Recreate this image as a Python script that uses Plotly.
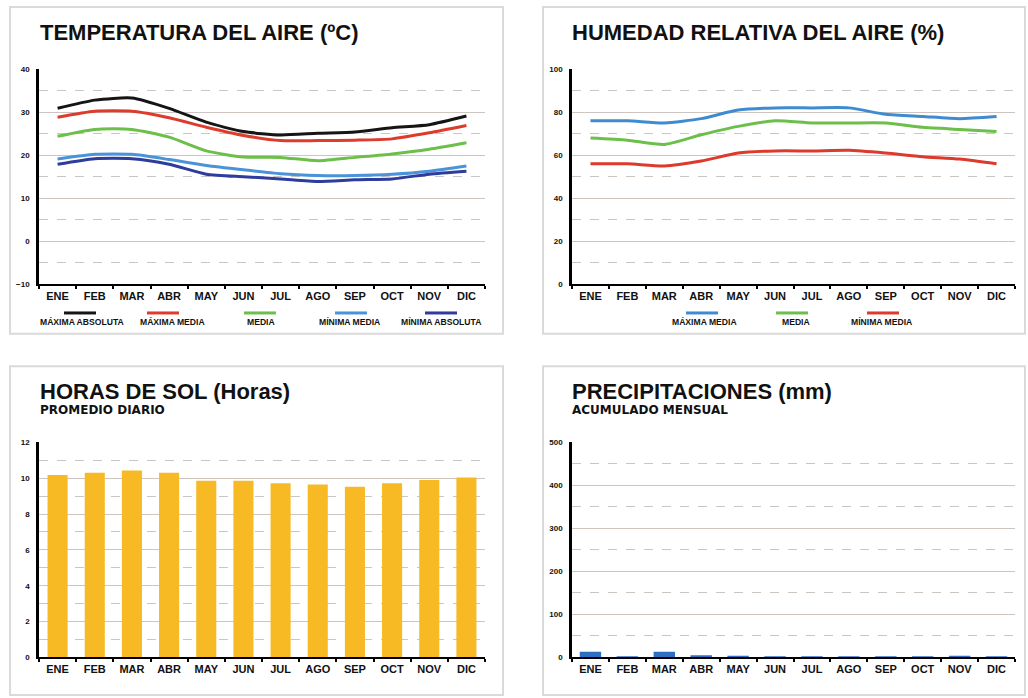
import plotly.graph_objects as go

W, H = 1028, 698

meses = ["ENE", "FEB", "MAR", "ABR", "MAY", "JUN", "JUL", "AGO", "SEP", "OCT", "NOV", "DIC"]

# Temperatura del aire (ºC)
temp_max_abs = [30.9, 32.8, 33.3, 30.9, 27.7, 25.5, 24.7, 25.1, 25.4, 26.4, 27.1, 29.1]
temp_max_media = [28.8, 30.2, 30.2, 28.7, 26.5, 24.6, 23.4, 23.4, 23.5, 23.8, 25.2, 26.9]
temp_media = [24.4, 26.0, 26.0, 24.2, 21.0, 19.6, 19.5, 18.7, 19.5, 20.3, 21.4, 22.9]
temp_min_media = [19.1, 20.2, 20.2, 19.0, 17.6, 16.6, 15.7, 15.3, 15.3, 15.6, 16.3, 17.5]
temp_min_abs = [17.9, 19.2, 19.2, 17.9, 15.6, 15.0, 14.5, 13.9, 14.3, 14.5, 15.6, 16.3]
temp_nombres = ["MÁXIMA ABSOLUTA", "MÁXIMA MEDIA", "MEDIA", "MÍNIMA MEDIA", "MÍNIMA ABSOLUTA"]

# Humedad relativa del aire (%)
hum_max_media = [76, 76, 75, 77, 81, 82, 82, 82, 79, 78, 77, 78]
hum_media = [68, 67, 65, 69.5, 73.4, 76, 75, 75, 75, 73, 72, 71]
hum_min_media = [56, 56, 55, 57.3, 61, 62, 62, 62.3, 61, 59.3, 58.2, 56]
hum_nombres = ["MÁXIMA MEDIA", "MEDIA", "MÍNIMA MEDIA"]

# Horas de sol (promedio diario)
horas_sol = [10.18, 10.3, 10.42, 10.3, 9.86, 9.86, 9.72, 9.64, 9.52, 9.72, 9.9, 10.03]

# Precipitaciones (acumulado mensual, mm)
precipitacion = [13, 0.5, 13, 5, 4, 0.5, 0.5, 1, 1, 1, 4, 0.5]

temp_series = [temp_max_abs, temp_max_media, temp_media, temp_min_media, temp_min_abs]
temp_colores = ["#151515", "#dd3b2c", "#6cbf4a", "#4a93d8", "#2e3c9c"]
hum_series = [hum_max_media, hum_media, hum_min_media]
hum_colores = ["#3f8bd2", "#6cbf4a", "#db3a2c"]

FONT = "Liberation Sans, Arial, sans-serif"
GRID = "#cdc5c0"


def px(x):
    return x / W


def py(y):
    return 1 - y / H


fig = go.Figure()

for s, c, n in zip(temp_series, temp_colores, temp_nombres):
    fig.add_trace(go.Scatter(x=meses, y=s, mode="lines", name=n,
                             line=dict(color=c, width=3, shape="spline", smoothing=0.6),
                             xaxis="x", yaxis="y", showlegend=False))

for s, c, n in zip(hum_series, hum_colores, hum_nombres):
    fig.add_trace(go.Scatter(x=meses, y=s, mode="lines", name=n,
                             line=dict(color=c, width=3, shape="spline", smoothing=0.6),
                             xaxis="x2", yaxis="y2", showlegend=False))

fig.add_trace(go.Bar(x=meses, y=horas_sol, marker=dict(color="#f7b924", line=dict(width=0)),
                     width=0.54, xaxis="x3", yaxis="y3", showlegend=False))
fig.add_trace(go.Bar(x=meses, y=precipitacion, marker=dict(color="#2f6fc2", line=dict(width=0)),
                     width=0.58, xaxis="x4", yaxis="y4", showlegend=False))


def xaxis(domain, anchor):
    return dict(domain=domain, anchor=anchor, type="category", range=[-0.5, 11.5],
                showline=True, linecolor="#000", linewidth=2, showgrid=False,
                ticks="outside", tickson="boundaries", ticklen=3, tickwidth=2, tickcolor="#000",
                tickfont=dict(family=FONT, size=11, color="#111", weight="bold"),
                fixedrange=True)


def yaxis(domain, anchor, rng, dtick):
    return dict(domain=domain, anchor=anchor, range=rng, dtick=dtick, tick0=rng[0],
                showline=True, linecolor="#000", linewidth=2.5, zeroline=False,
                showgrid=True, gridcolor=GRID, gridwidth=1,
                ticks="", ticklabelstandoff=5,
                tickfont=dict(family=FONT, size=8, color="#111", weight="bold"),
                minor=dict(dtick=dtick / 2, tick0=rng[0], showgrid=True, gridcolor=GRID,
                           griddash="dash", gridwidth=1),
                fixedrange=True)


dx_left = [px(39), px(485)]
dx_right = [px(572), px(1015)]
dy_top = [py(284), py(66)]
dy_bot = [py(662), py(444)]

shapes = []
annotations = []

# panel frames
for (x0, y0, x1, y1) in [(10, 3, 503, 334), (543, 3, 1025, 334), (10, 367, 503, 700), (543, 367, 1025, 700)]:
    shapes.append(dict(type="rect", xref="paper", yref="paper",
                       x0=px(x0), x1=px(x1), y0=py(y1), y1=py(y0),
                       line=dict(color="#dadada", width=2), layer="below"))


def title(text, x, y):
    annotations.append(dict(text=text, xref="paper", yref="paper", x=px(x), y=py(y),
                            xanchor="left", yanchor="middle", showarrow=False,
                            font=dict(family=FONT, size=22, color="#111", weight="bold")))


def subtitle(text, x, y):
    annotations.append(dict(text=text, xref="paper", yref="paper", x=px(x), y=py(y),
                            xanchor="left", yanchor="middle", showarrow=False,
                            font=dict(family="DejaVu Sans, sans-serif", size=12, color="#111",
                                      weight="bold")))


title("TEMPERATURA DEL AIRE (ºC)", 38, 29)
title("HUMEDAD RELATIVA DEL AIRE (%)", 570, 29)
title("HORAS DE SOL (Horas)", 38, 393)
subtitle("PROMEDIO DIARIO", 38, 411)
title("PRECIPITACIONES (mm)", 570, 393)
subtitle("ACUMULADO MENSUAL", 570, 411)


def legend(nombres, colores, sample_cx, label_cx):
    for n, c, sx, lx in zip(nombres, colores, sample_cx, label_cx):
        shapes.append(dict(type="line", xref="paper", yref="paper",
                           x0=px(sx - 16), x1=px(sx + 16), y0=py(313), y1=py(313),
                           line=dict(color=c, width=3)))
        annotations.append(dict(text=n, xref="paper", yref="paper", x=px(lx), y=py(322),
                                xanchor="center", yanchor="middle", showarrow=False,
                                font=dict(family=FONT, size=8.6, color="#111", weight="bold")))


legend(temp_nombres, temp_colores, [80, 163, 260, 351, 441], [82, 172, 261, 349, 441])
legend(hum_nombres, hum_colores, [702, 792, 883], [704, 796, 881])

fig.update_layout(
    width=W, height=H, margin=dict(l=0, r=0, t=0, b=0),
    paper_bgcolor="white", plot_bgcolor="white",
    showlegend=False, bargap=0.46,
    xaxis=xaxis(dx_left, "y"), yaxis=yaxis(dy_top, "x", [-10, 40], 10),
    xaxis2=xaxis(dx_right, "y2"), yaxis2=yaxis(dy_top, "x2", [0, 100], 20),
    xaxis3=xaxis(dx_left, "y3"), yaxis3=yaxis(dy_bot, "x3", [0, 12], 2),
    xaxis4=xaxis(dx_right, "y4"), yaxis4=yaxis(dy_bot, "x4", [0, 500], 100),
    shapes=shapes, annotations=annotations,
)

fig.write_html("out.html", config={"displayModeBar": False},
               post_script="document.body.style.margin='0px';document.body.style.overflow='hidden';")
